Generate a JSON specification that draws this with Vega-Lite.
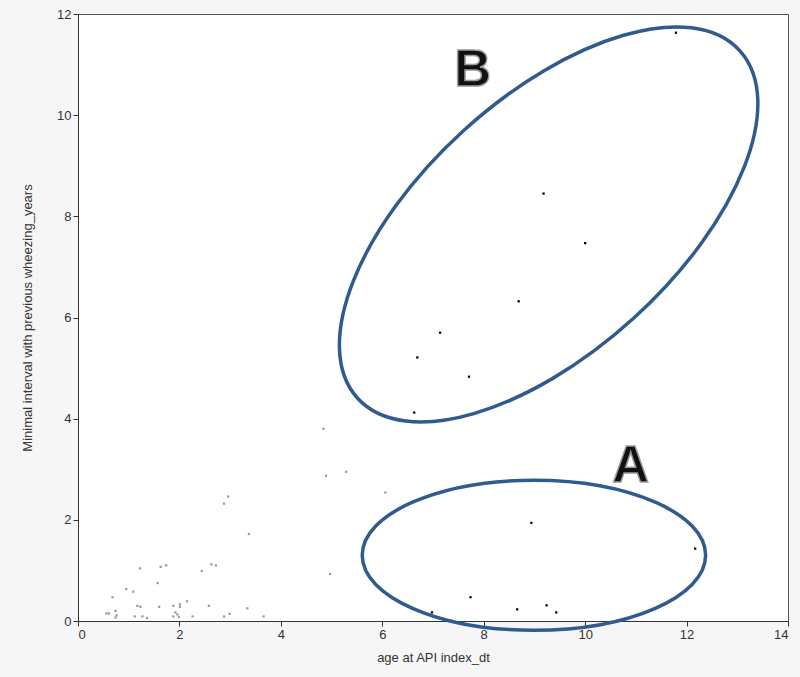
{
  "$schema": "https://vega.github.io/schema/vega-lite/v6.json",
  "width": 710,
  "height": 607,
  "autosize": {"type": "none"},
  "padding": {"left": 78, "top": 14, "right": 12, "bottom": 56},
  "background": "#f6f6f6",
  "config": {
    "view": {"fill": "white", "stroke": "#555", "strokeWidth": 1},
    "axis": {
      "labelFont": "Liberation Sans Narrow, Liberation Sans",
      "titleFont": "Liberation Sans Narrow, Liberation Sans",
      "labelFontSize": 13,
      "titleFontSize": 13,
      "labelColor": "#333",
      "titleColor": "#333",
      "titleFontWeight": "normal",
      "domainColor": "#333",
      "tickColor": "#333",
      "tickSize": 5,
      "grid": false
    }
  },
  "datasets": {
    "pts": [
      {"x": 4.84, "y": 3.80, "g": "gray"},
      {"x": 4.89, "y": 2.87, "g": "gray"},
      {"x": 5.29, "y": 2.95, "g": "gray"},
      {"x": 6.06, "y": 2.54, "g": "gray"},
      {"x": 2.96, "y": 2.46, "g": "gray"},
      {"x": 2.88, "y": 2.32, "g": "gray"},
      {"x": 3.37, "y": 1.72, "g": "gray"},
      {"x": 4.97, "y": 0.93, "g": "gray"},
      {"x": 1.22, "y": 1.04, "g": "gray"},
      {"x": 1.63, "y": 1.07, "g": "gray"},
      {"x": 1.74, "y": 1.10, "g": "gray"},
      {"x": 2.63, "y": 1.12, "g": "gray"},
      {"x": 2.72, "y": 1.10, "g": "gray"},
      {"x": 2.44, "y": 0.99, "g": "gray"},
      {"x": 1.57, "y": 0.75, "g": "gray"},
      {"x": 0.95, "y": 0.63, "g": "gray"},
      {"x": 1.09, "y": 0.58, "g": "gray"},
      {"x": 0.68, "y": 0.47, "g": "gray"},
      {"x": 1.17, "y": 0.30, "g": "gray"},
      {"x": 1.23, "y": 0.28, "g": "gray"},
      {"x": 1.60, "y": 0.28, "g": "gray"},
      {"x": 1.88, "y": 0.30, "g": "gray"},
      {"x": 2.01, "y": 0.33, "g": "gray"},
      {"x": 2.01, "y": 0.28, "g": "gray"},
      {"x": 2.15, "y": 0.39, "g": "gray"},
      {"x": 2.58, "y": 0.30, "g": "gray"},
      {"x": 3.34, "y": 0.25, "g": "gray"},
      {"x": 0.56, "y": 0.15, "g": "gray"},
      {"x": 0.61, "y": 0.15, "g": "gray"},
      {"x": 0.74, "y": 0.20, "g": "gray"},
      {"x": 0.76, "y": 0.11, "g": "gray"},
      {"x": 0.74, "y": 0.07, "g": "gray"},
      {"x": 1.12, "y": 0.09, "g": "gray"},
      {"x": 1.27, "y": 0.09, "g": "gray"},
      {"x": 1.36, "y": 0.06, "g": "gray"},
      {"x": 1.88, "y": 0.09, "g": "gray"},
      {"x": 1.92, "y": 0.17, "g": "gray"},
      {"x": 1.96, "y": 0.13, "g": "gray"},
      {"x": 1.99, "y": 0.08, "g": "gray"},
      {"x": 2.26, "y": 0.09, "g": "gray"},
      {"x": 2.88, "y": 0.09, "g": "gray"},
      {"x": 2.99, "y": 0.14, "g": "gray"},
      {"x": 3.66, "y": 0.09, "g": "gray"},
      {"x": 11.79, "y": 11.63, "g": "black"},
      {"x": 9.18, "y": 8.45, "g": "black"},
      {"x": 10.0, "y": 7.47, "g": "black"},
      {"x": 8.69, "y": 6.32, "g": "black"},
      {"x": 7.14, "y": 5.70, "g": "black"},
      {"x": 6.69, "y": 5.21, "g": "black"},
      {"x": 7.71, "y": 4.83, "g": "black"},
      {"x": 6.63, "y": 4.12, "g": "black"},
      {"x": 8.94, "y": 1.94, "g": "black"},
      {"x": 12.17, "y": 1.43, "g": "black"},
      {"x": 7.74, "y": 0.47, "g": "black"},
      {"x": 6.98, "y": 0.17, "g": "black"},
      {"x": 8.66, "y": 0.23, "g": "black"},
      {"x": 9.24, "y": 0.31, "g": "black"},
      {"x": 9.43, "y": 0.17, "g": "black"}
    ],
    "ellB": [{"cx": 9.28, "cy": 7.84}],
    "ellA": [{"cx": 8.99, "cy": 1.30}],
    "labels": [
      {"lx": 7.78, "ly": 10.87, "t": "B"},
      {"lx": 10.90, "ly": 3.04, "t": "A"}
    ]
  },
  "layer": [
    {
      "data": {"name": "pts"},
      "mark": {"type": "point", "shape": "square", "filled": true, "size": 5, "opacity": 1},
      "encoding": {
        "x": {"field": "x", "type": "quantitative", "scale": {"domain": [0, 14], "nice": false}, "axis": {"values": [0, 2, 4, 6, 8, 10, 12, 14], "title": "age at API index_dt", "titlePadding": 10}},
        "y": {"field": "y", "type": "quantitative", "scale": {"domain": [0, 12], "nice": false}, "axis": {"values": [0, 2, 4, 6, 8, 10, 12], "title": "Minimal interval with previous wheezing_years", "titlePadding": 22}},
        "color": {"field": "g", "type": "nominal", "scale": {"domain": ["gray", "black"], "range": ["#9a9a9a", "#000000"]}, "legend": null}
      }
    },
    {
      "data": {"name": "ellB"},
      "mark": {"type": "point", "shape": "M -2.583 0 A 2.583 1.266 0 1 0 2.583 0 A 2.583 1.266 0 1 0 -2.583 0 Z", "size": 40000, "filled": false, "fill": null, "stroke": "#2f5b8e", "strokeWidth": 3.5, "opacity": 1, "angle": -42.3},
      "encoding": {
        "x": {"field": "cx", "type": "quantitative"},
        "y": {"field": "cy", "type": "quantitative"}
      }
    },
    {
      "data": {"name": "ellA"},
      "mark": {"type": "point", "shape": "M -1.717 0 A 1.717 0.75 0 1 0 1.717 0 A 1.717 0.75 0 1 0 -1.717 0 Z", "size": 40000, "filled": false, "fill": null, "stroke": "#2f5b8e", "strokeWidth": 3.5, "opacity": 1},
      "encoding": {
        "x": {"field": "cx", "type": "quantitative"},
        "y": {"field": "cy", "type": "quantitative"}
      }
    },
    {
      "data": {"name": "labels"},
      "mark": {"type": "text", "font": "Liberation Sans", "fontWeight": "bold", "fontSize": 51, "fill": "#111", "stroke": "#999", "strokeWidth": 1.5, "baseline": "middle", "align": "center"},
      "encoding": {
        "x": {"field": "lx", "type": "quantitative"},
        "y": {"field": "ly", "type": "quantitative"},
        "text": {"field": "t"}
      }
    }
  ]
}
